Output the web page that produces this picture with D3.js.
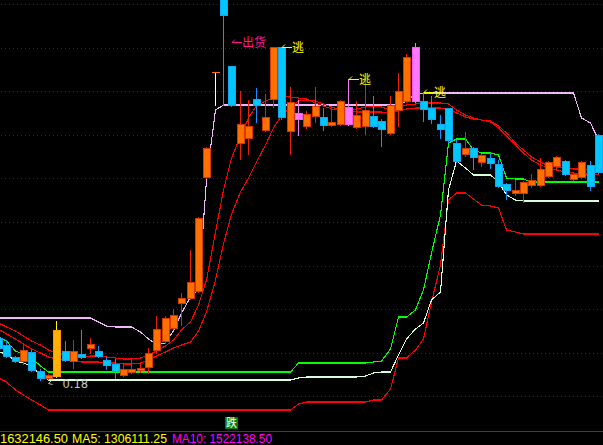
<!DOCTYPE html>
<html><head><meta charset="utf-8">
<script src="https://cdn.jsdelivr.net/npm/d3@7"></script>
<style>html,body{margin:0;padding:0;background:#000;overflow:hidden}svg{display:block}</style>
</head><body><svg id="c" width="603" height="445"></svg>
<script>
// ---- data (prices) ----
const opens  = [0.220,0.213,0.201,0.197,0.206,0.187,0.180,0.182,0.207,0.197,0.204,0.210,0.207,0.198,0.194,0.183,0.186,0.188,0.191,0.208,0.217,0.230,0.255,0.260,0.267,0.381,0.486,0.563,0.492,0.415,0.420,0.459,0.428,0.459,0.511,0.427,0.439,0.432,0.442,0.441,0.433,0.434,0.434,0.431,0.432,0.442,0.437,0.425,0.448,0.457,0.457,0.457,0.450,0.434,0.450,0.415,0.404,0.410,0.396,0.400,0.394,0.374,0.365,0.365,0.373,0.373,0.382,0.392,0.397,0.379,0.381,0.393,0.423];
const highs  = [0.222,0.218,0.202,0.213,0.208,0.189,0.184,0.237,0.217,0.218,0.228,0.220,0.212,0.201,0.199,0.195,0.198,0.195,0.210,0.242,0.242,0.249,0.265,0.308,0.341,0.411,0.486,0.568,0.492,0.467,0.458,0.470,0.464,0.511,0.511,0.471,0.458,0.447,0.471,0.450,0.448,0.458,0.479,0.457,0.479,0.462,0.439,0.462,0.485,0.504,0.515,0.466,0.462,0.443,0.450,0.418,0.426,0.411,0.404,0.405,0.398,0.375,0.378,0.377,0.384,0.400,0.397,0.402,0.398,0.386,0.397,0.397,0.424];
const lows   = [0.208,0.201,0.196,0.194,0.187,0.178,0.179,0.181,0.197,0.190,0.200,0.205,0.201,0.189,0.180,0.182,0.185,0.186,0.185,0.205,0.215,0.229,0.233,0.259,0.266,0.380,0.453,0.453,0.452,0.399,0.404,0.436,0.427,0.451,0.439,0.404,0.423,0.430,0.436,0.428,0.432,0.433,0.433,0.430,0.424,0.431,0.412,0.424,0.432,0.456,0.456,0.437,0.435,0.420,0.416,0.396,0.402,0.389,0.392,0.390,0.371,0.359,0.363,0.356,0.371,0.372,0.381,0.388,0.383,0.378,0.380,0.368,0.385];
const closes = [0.210,0.202,0.197,0.208,0.188,0.180,0.183,0.228,0.198,0.207,0.201,0.214,0.202,0.193,0.187,0.189,0.189,0.190,0.205,0.229,0.240,0.243,0.260,0.276,0.340,0.410,0.486,0.543,0.453,0.434,0.432,0.453,0.441,0.511,0.441,0.456,0.445,0.444,0.452,0.433,0.436,0.457,0.451,0.443,0.448,0.432,0.429,0.453,0.467,0.501,0.511,0.449,0.439,0.429,0.418,0.397,0.410,0.401,0.403,0.395,0.372,0.368,0.368,0.376,0.378,0.389,0.396,0.401,0.384,0.384,0.396,0.372,0.386];
const yellowBars = [7];
const pinkBars = [36, 42, 50];
const whiteDoji = [26];

const upperBand = [0.240,0.240,0.240,0.240,0.240,0.240,0.240,0.240,0.240,0.240,0.240,0.240,0.236,0.232,0.231,0.231,0.231,0.226,0.219,0.214,0.215,0.227,0.245,0.261,0.268,0.378,0.448,0.453,0.453,0.453,0.453,0.453,0.453,0.453,0.453,0.453,0.453,0.453,0.453,0.453,0.453,0.453,0.453,0.453,0.453,0.453,0.453,0.453,0.453,0.457,0.464,0.465,0.465,0.465,0.465,0.465,0.465,0.465,0.465,0.465,0.465,0.465,0.465,0.465,0.465,0.465,0.465,0.465,0.465,0.465,0.440,0.435,0.418];
const maFast = [0.235,0.231,0.227,0.222,0.217,0.213,0.208,0.205,0.203,0.202,0.201,0.202,0.202,0.201,0.200,0.199,0.199,0.200,0.203,0.207,0.212,0.218,0.228,0.236,0.253,0.278,0.326,0.368,0.400,0.422,0.440,0.452,0.457,0.460,0.462,0.461,0.460,0.459,0.455,0.452,0.449,0.448,0.448,0.449,0.451,0.452,0.451,0.448,0.451,0.453,0.454,0.455,0.455,0.455,0.454,0.448,0.443,0.440,0.438,0.437,0.432,0.425,0.415,0.408,0.401,0.396,0.392,0.391,0.390,0.389,0.389,0.388,0.388];
const maSlow = [0.229,0.224,0.219,0.214,0.209,0.205,0.201,0.199,0.198,0.197,0.196,0.196,0.196,0.195,0.195,0.194,0.194,0.195,0.198,0.202,0.206,0.210,0.213,0.216,0.227,0.246,0.278,0.314,0.344,0.366,0.380,0.396,0.413,0.430,0.442,0.451,0.457,0.458,0.457,0.454,0.451,0.448,0.447,0.446,0.446,0.446,0.446,0.445,0.447,0.449,0.450,0.450,0.450,0.450,0.449,0.445,0.441,0.439,0.438,0.436,0.430,0.422,0.413,0.405,0.398,0.393,0.390,0.388,0.386,0.385,0.384,0.384,0.383];
const supportGreen = [0.221,0.217,0.207,0.204,0.200,0.192,0.186,0.186,0.186,0.186,0.186,0.186,0.186,0.186,0.186,0.186,0.186,0.186,0.186,0.186,0.186,0.186,0.186,0.186,0.186,0.186,0.186,0.186,0.186,0.186,0.186,0.186,0.186,0.186,0.186,0.186,0.195,0.195,0.195,0.195,0.195,0.195,0.195,0.195,0.195,0.196,0.197,0.209,0.241,0.241,0.248,0.268,0.305,0.343,0.415,0.419,0.419,0.408,0.405,0.405,0.403,0.380,0.379,0.379,0.376,0.376,0.376,0.376,0.376,0.376,0.376,0.376,0.376];
const supportPale = [0.206,0.204,0.197,0.195,0.192,0.183,0.178,0.178,0.178,0.178,0.178,0.178,0.178,0.178,0.178,0.178,0.178,0.178,0.178,0.178,0.178,0.178,0.178,0.178,0.178,0.178,0.178,0.178,0.178,0.178,0.178,0.178,0.178,0.178,0.178,0.178,0.180,0.181,0.181,0.181,0.181,0.181,0.181,0.181,0.182,0.185,0.186,0.186,0.203,0.219,0.229,0.235,0.258,0.266,0.368,0.397,0.390,0.383,0.383,0.383,0.376,0.363,0.358,0.357,0.357,0.357,0.357,0.357,0.357,0.357,0.357,0.357,0.357];
const lowerBand = [0.180,0.176,0.168,0.163,0.158,0.153,0.148,0.148,0.148,0.148,0.148,0.148,0.148,0.148,0.148,0.148,0.148,0.148,0.148,0.148,0.148,0.148,0.148,0.148,0.148,0.148,0.148,0.148,0.148,0.148,0.148,0.148,0.148,0.148,0.148,0.148,0.154,0.156,0.156,0.156,0.156,0.156,0.156,0.156,0.156,0.158,0.158,0.169,0.200,0.200,0.208,0.219,0.256,0.293,0.358,0.365,0.365,0.359,0.353,0.352,0.350,0.328,0.326,0.324,0.324,0.324,0.324,0.324,0.324,0.324,0.324,0.324,0.324];

const gridPrices = [0.554,0.5104,0.4668,0.4232,0.3796,0.336,0.2924,0.2488,0.2052,0.1616];
const signalIdx   = [28, 34, 42, 51];
const signalPrice = [0.516, 0.511, 0.479, 0.466];
const signalText  = ["出货", "逃", "逃", "逃"];
const lowLabel = "0.18";
const lowIdx = 5;
const fallIdx = 27;
const fallText = "跌";
const footerLabels = ["1632146.50", "MA5: 1306111.25", "MA10: 1522138.50"];

// ---- drawing ----
const W = 603, H = 445;
const svg = d3.select('#c');
svg.append('rect').attr('width', W).attr('height', H).attr('fill', '#000');
const n = opens.length;
const x = d3.scaleBand().domain(d3.range(n)).range([-5, -5 + 8.3333 * n]).padding(0);
const y = d3.scaleLinear().domain([0.112, 0.558]).range([446, 0]);
const L = i => Math.round(x(i));
const cx = i => L(i) + 3.5;
const ry = v => Math.round(y(v));

// grid
svg.append('g').selectAll('line').data(gridPrices).join('line')
  .attr('x1', 1).attr('x2', W)
  .attr('y1', d => ry(d) + 0.5).attr('y2', d => ry(d) + 0.5)
  .attr('stroke', '#a00000').attr('stroke-dasharray', '1,3').attr('shape-rendering', 'crispEdges');

// bottom separator
svg.append('line').attr('x1', 0).attr('x2', W).attr('y1', 431.5).attr('y2', 431.5)
  .attr('stroke', '#d00000').attr('stroke-width', 1);

// lines
const lineGen = d3.line().x((d, i) => cx(i)).y(d => y(d));
const lines = [
  [lowerBand, '#ff0000'],
  [supportPale, '#d8ffd8'],
  [supportGreen, '#00ff00'],
  [upperBand, '#f0b8f8'],
  [maSlow, '#ff0000'],
  [maFast, '#ff0000'],
];
const lg = svg.append('g');
lines.forEach(([data, col]) => {
  lg.append('path').attr('d', lineGen(data)).attr('fill', 'none')
    .attr('stroke', col).attr('stroke-width', 1.1).attr('shape-rendering', 'crispEdges');
});

// candles
const cg = svg.append('g');
d3.range(n).forEach(i => {
  const o = opens[i], c = closes[i], h = highs[i], l = lows[i];
  let fill, stroke, wick;
  if (yellowBars.includes(i)) { fill = '#ffb000'; stroke = '#ff9800'; wick = '#ffff00'; }
  else if (pinkBars.includes(i)) { fill = '#ff78ff'; stroke = '#ff58f0'; wick = '#f080f0'; }
  else if (c >= o) { fill = '#ff7000'; stroke = '#d83800'; wick = '#e82000'; }
  else { fill = '#00c8ff'; stroke = '#10a8f0'; wick = '#1890ff'; }
  if (whiteDoji.includes(i)) wick = '#ffffff';
  const left = L(i);
  cg.append('line').attr('x1', left + 3.5).attr('x2', left + 3.5)
    .attr('y1', ry(h)).attr('y2', ry(l) + 1).attr('stroke', wick).attr('shape-rendering', 'crispEdges');
  const top = ry(Math.max(o, c)), bot = ry(Math.min(o, c));
  if (bot - top < 1) {
    cg.append('line').attr('x1', left).attr('x2', left + 8).attr('y1', top + 0.5).attr('y2', top + 0.5)
      .attr('stroke', '#ff7000');
  } else {
    cg.append('rect').attr('x', left + 0.5).attr('y', top + 0.5).attr('width', 7).attr('height', bot - top)
      .attr('fill', fill).attr('stroke', stroke).attr('shape-rendering', 'crispEdges');
  }
});

// signal labels
const sg = svg.append('g');
signalIdx.forEach((idx, k) => {
  const tx = cx(idx) + 0.5, ty = ry(signalPrice[k]) + 0.5;
  const col = signalText[k] === '出货' ? '#ff1493' : '#ffff00';
  sg.append('path').attr('d', `M${tx + 3},${ty - 3} L${tx},${ty} L${tx + 10},${ty}`)
    .attr('fill', 'none').attr('stroke', col).attr('stroke-width', 1);
  sg.append('text').attr('x', tx + 10).attr('y', ty).attr('dy', '0.36em')
    .attr('font-family', '"Noto Sans CJK SC", sans-serif').attr('font-size', 12)
    .attr('fill', col).text(signalText[k]);
});

// lowest price label
{
  const tx = L(lowIdx) + 11.5, ty = ry(lows[lowIdx]) + 3.5;
  sg.append('path').attr('d', `M${tx + 3},${ty - 3} L${tx},${ty} L${tx + 4},${ty + 1}`)
    .attr('fill', 'none').attr('stroke', '#c0c0c0');
  sg.append('text').attr('x', tx + 14).attr('y', ty).attr('dy', '0.36em')
    .attr('font-family', '"DejaVu Sans", sans-serif').attr('font-size', 11.5)
    .attr('fill', '#c8c8c8').text(lowLabel);
}

// fall marker
{
  const bx = L(fallIdx) + 5;
  sg.append('rect').attr('x', bx).attr('y', 417).attr('width', 13).attr('height', 12).attr('fill', '#008000');
  sg.append('text').attr('x', bx + 6.5).attr('y', 423).attr('dy', '0.36em').attr('text-anchor', 'middle')
    .attr('font-family', '"Noto Sans CJK SC", sans-serif').attr('font-size', 11)
    .attr('fill', '#ffffff').text(fallText);
}

// footer
const fx = [0, 72, 172], fw = [68, 95, 100], fc = ['#ffff00', '#ffff00', '#ff00ff'];
footerLabels.forEach((t, k) => {
  svg.append('text').attr('x', fx[k]).attr('y', 443)
    .attr('font-family', '"Liberation Sans", Arial, sans-serif').attr('font-size', 12.5)
    .attr('textLength', fw[k]).attr('lengthAdjust', 'spacingAndGlyphs')
    .attr('fill', fc[k]).text(t);
});
</script>
</body></html>
